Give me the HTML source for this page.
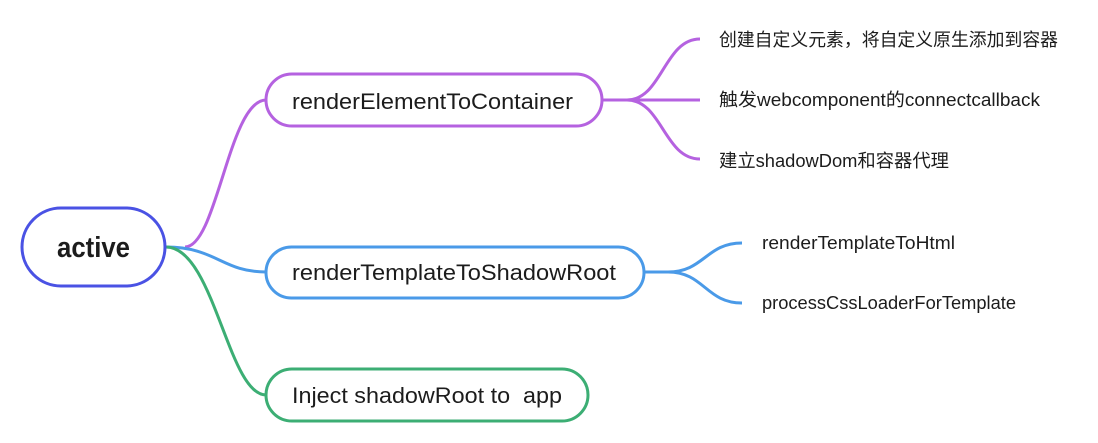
<!DOCTYPE html>
<html>
<head>
<meta charset="utf-8">
<style>
  html, body { margin:0; padding:0; background:#ffffff; }
  body { width:1098px; height:443px; overflow:hidden; }
  svg { display:block; }
  text { font-family: "Liberation Sans", "Noto Sans CJK SC", sans-serif; fill:#1c1c1c; }
</style>
</head>
<body>
<svg width="1098" height="443" viewBox="0 0 1098 443" xmlns="http://www.w3.org/2000/svg">
  <!-- connectors root -> level 1 -->
  <path d="M185,247 C217,247 229,100 266,100" fill="none" stroke="#b562e0" stroke-width="3"/>
  <path d="M166,247 C216,247 222,272 266,272" fill="none" stroke="#4a9ae8" stroke-width="3"/>
  <path d="M166,247 C214,247 228,395 266,395" fill="none" stroke="#3cae74" stroke-width="3"/>

  <!-- purple leaves -->
  <path d="M602,100 L627,100 C662,100 664,39 700,39" fill="none" stroke="#b562e0" stroke-width="3"/>
  <path d="M602,100 L700,100" fill="none" stroke="#b562e0" stroke-width="3"/>
  <path d="M627,100 C662,100 664,159 700,159" fill="none" stroke="#b562e0" stroke-width="3"/>

  <!-- blue leaves -->
  <path d="M644,272 L668,272 C704,272 706,243 742,243" fill="none" stroke="#4a9ae8" stroke-width="3"/>
  <path d="M668,272 C704,272 706,303 742,303" fill="none" stroke="#4a9ae8" stroke-width="3"/>

  <!-- root -->
  <rect x="22" y="208" width="143" height="78" rx="39" ry="39" fill="#ffffff" stroke="#4a52e4" stroke-width="3"/>
  <text x="57" y="257" font-size="29" font-weight="bold" textLength="73" lengthAdjust="spacingAndGlyphs">active</text>

  <!-- level 1 nodes -->
  <rect x="266" y="74" width="336" height="52" rx="26" ry="26" fill="#ffffff" stroke="#b562e0" stroke-width="3"/>
  <text x="292" y="109" font-size="22" textLength="281" lengthAdjust="spacingAndGlyphs">renderElementToContainer</text>

  <rect x="266" y="247" width="378" height="51" rx="25.5" ry="25.5" fill="#ffffff" stroke="#4a9ae8" stroke-width="3"/>
  <text x="292" y="280" font-size="22" textLength="324" lengthAdjust="spacingAndGlyphs">renderTemplateToShadowRoot</text>

  <rect x="266" y="369" width="322" height="52" rx="26" ry="26" fill="#ffffff" stroke="#3cae74" stroke-width="3"/>
  <text x="292" y="403" font-size="22" textLength="270" lengthAdjust="spacingAndGlyphs" xml:space="preserve" style="white-space:pre">Inject shadowRoot to  app</text>

  <!-- leaf texts -->
  <text x="719" y="46" font-size="18" textLength="339" lengthAdjust="spacingAndGlyphs">创建自定义元素，将自定义原生添加到容器</text>
  <text x="719" y="106" font-size="18" textLength="321" lengthAdjust="spacingAndGlyphs">触发webcomponent的connectcallback</text>
  <text x="719" y="167" font-size="18" textLength="230" lengthAdjust="spacingAndGlyphs">建立shadowDom和容器代理</text>

  <text x="762" y="249" font-size="18" textLength="193" lengthAdjust="spacingAndGlyphs">renderTemplateToHtml</text>
  <text x="762" y="309" font-size="18" textLength="254" lengthAdjust="spacingAndGlyphs">processCssLoaderForTemplate</text>
</svg>
</body>
</html>
